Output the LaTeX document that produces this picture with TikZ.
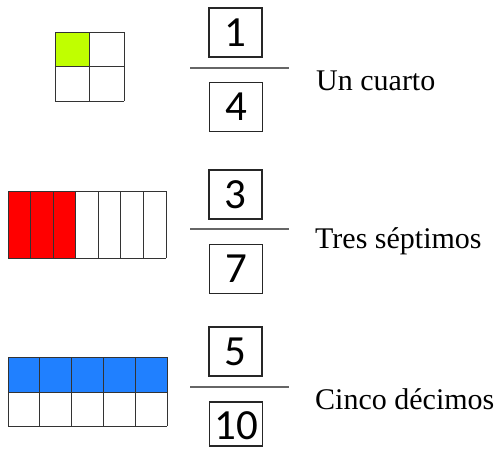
\documentclass[tikz,border=0pt]{standalone}
\usepackage{fontspec}
\setmainfont{Liberation Serif}
\newfontfamily\digitfont{Carlito}
\definecolor{fillgreen}{HTML}{C0FF00}
\definecolor{fillred}{HTML}{FF0000}
\definecolor{fillblue}{HTML}{2080FF}
\definecolor{gridline}{HTML}{333333}
\definecolor{fracgray}{HTML}{666666}
\begin{document}
\begin{tikzpicture}[x=1pt,y=-1pt,
  numbox/.style={draw=black!85, line width=1.2pt, minimum width=53pt, inner sep=0pt,
    text height=38pt, text depth=11pt, font=\digitfont\fontsize{43}{43}\selectfont},
  fracline/.style={draw=fracgray, line width=1.4pt},
  gridstroke/.style={draw=gridline, line width=0.9pt},
  label/.style={anchor=base west, inner sep=0pt, font=\fontsize{30}{36}\selectfont}]
\useasboundingbox (0,0) rectangle (496,448);

% ---- Grid 1: 2x2, one quarter green
\fill[fillgreen] (55,32) rectangle (89.5,66.5);
\foreach \x in {55,89.5,124} \draw[gridstroke] (\x,32) -- (\x,101);
\foreach \y in {32,66.5,101} \draw[gridstroke] (55,\y) -- (124,\y);

% ---- Grid 2: 7 columns, three red
\fill[fillred] (8,191) rectangle ({8+3*158/7},258);
\foreach \i in {0,...,7} \draw[gridstroke] ({8+\i*158/7},191) -- ({8+\i*158/7},258);
\foreach \y in {191,258} \draw[gridstroke] (8,\y) -- (166,\y);

% ---- Grid 3: 5 columns x 2 rows, top row blue
\fill[fillblue] (8,357) rectangle (167,392);
\foreach \i in {0,...,5} \draw[gridstroke] ({8+\i*159/5},357) -- ({8+\i*159/5},426);
\foreach \y in {357,392,426} \draw[gridstroke] (8,\y) -- (167,\y);

% ---- Fraction 1
\node[numbox] (n1) at (235.5,32.5) {1};
\node[numbox] (d1) at (236,107) {4};
\coordinate (a1) at (190,68); \coordinate (b1) at (289,68);
\draw[fracline] (a1) -- (b1);
\node[label] (t1) at (316,90) {Un cuarto};

% ---- Fraction 3 label etc.
\node[numbox] (n2) at (235.5,194.5) {3};
\node[numbox] (d2) at (236,269) {7};
\coordinate (a2) at (190,229); \coordinate (b2) at (289,229);
\draw[fracline] (a2) -- (b2);
\node[label] (t2) at (315,248) {Tres séptimos};

% ---- Fraction 3
\node[numbox] (n3) at (235.5,351.5) {5};
\node[numbox, text height=37pt, text depth=7pt] (d3) at (236,424) {10};
\coordinate (a3) at (190,387); \coordinate (b3) at (289,387);
\draw[fracline] (a3) -- (b3);
\node[label] (t3) at (315,409) {Cinco décimos};
\end{tikzpicture}
\end{document}
